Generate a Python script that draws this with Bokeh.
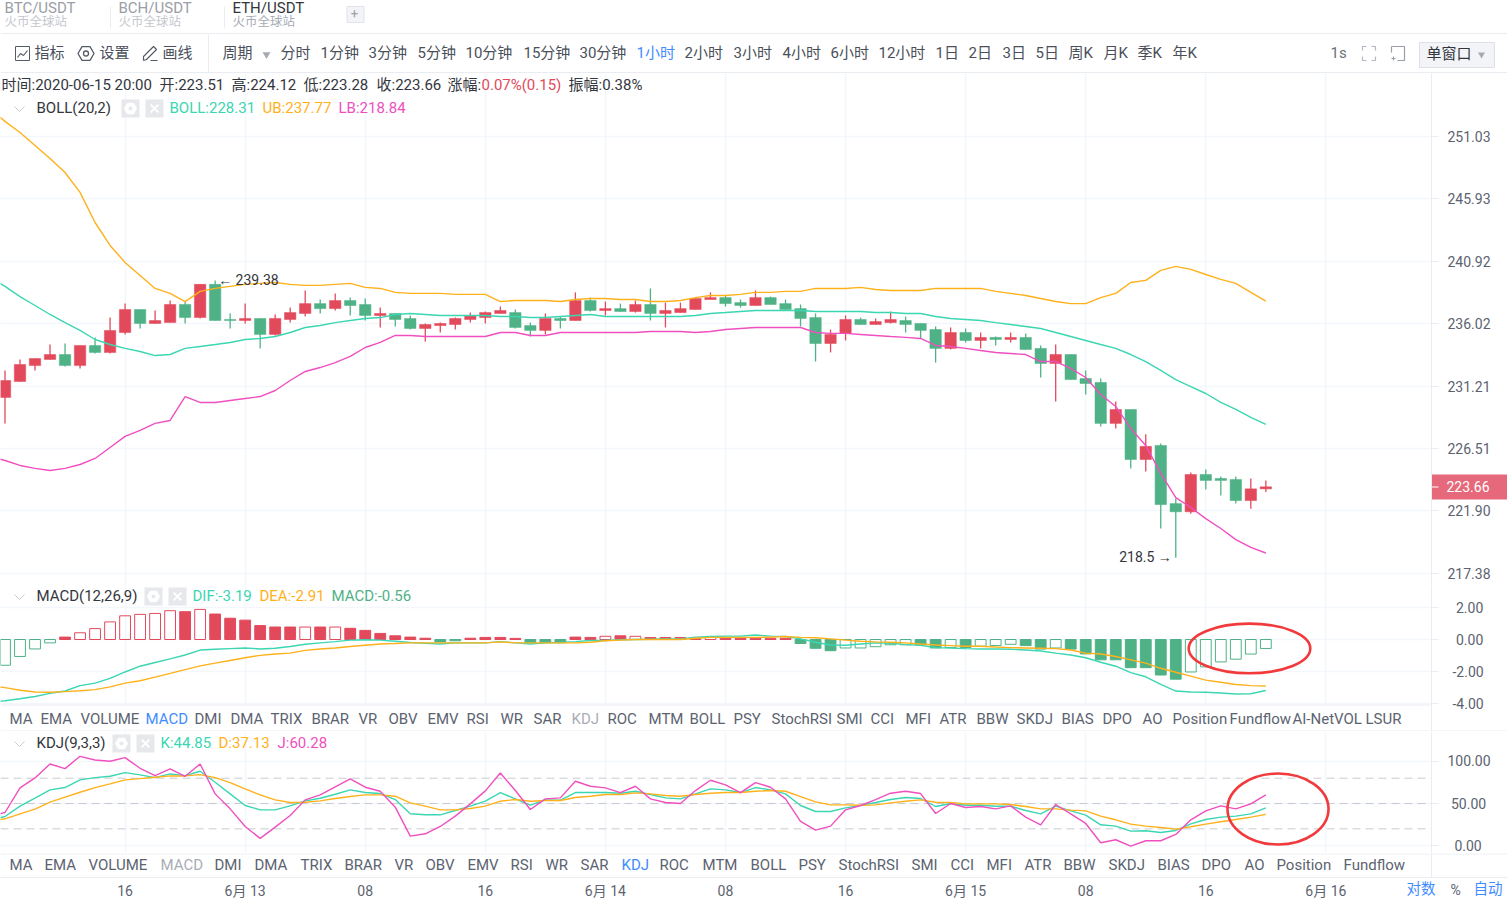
from bokeh.core.properties import value
from bokeh.embed import file_html
from bokeh.layouts import column
from bokeh.models import FixedTicker, Label, LinearAxis, LinearScale, PrintfTickFormatter, Range1d, Span
from bokeh.plotting import figure
from bokeh.resources import INLINE

# one candle per hour, 2020-06-12 08:00 to 2020-06-15 20:00
hours = list(range(85))
# the indicator lines start one hour earlier, left of the picture
line_hours = [-1] + hours

opens = [230.34, 231.55, 232.77, 233.24, 233.62, 232.77, 234.32, 233.78, 235.32, 237.11,
         236.02, 236.09, 237.50, 236.48, 239.08, 236.33, 236.25, 236.41, 235.17, 236.33,
         236.80, 237.57, 237.18, 237.81, 237.50, 236.64, 236.80, 236.41, 235.63, 235.86,
         235.94, 236.33, 236.48, 236.80, 236.87, 235.86, 235.48, 236.41, 236.25, 237.81,
         237.03, 237.18, 236.95, 237.50, 236.80, 236.87, 237.11, 237.89, 238.04, 237.65,
         237.42, 238.04, 237.57, 237.18, 236.48, 234.47, 235.25, 236.33, 235.94, 236.09,
         236.25, 236.02, 235.55, 234.09, 235.32, 234.70, 234.94, 234.78, 234.94, 234.09,
         232.93, 233.62, 231.78, 231.48, 228.38, 229.43, 225.68, 226.73, 222.43, 221.83,
         224.57, 224.28, 224.20, 222.65, 223.51]
closes = [231.63, 232.85, 233.31, 233.62, 232.77, 234.32, 233.78, 235.48, 237.11, 236.02,
          236.25, 237.50, 236.48, 239.08, 236.25, 236.25, 236.41, 235.17, 236.41, 236.87,
          237.57, 237.18, 237.81, 237.42, 236.64, 236.80, 236.33, 235.63, 235.94, 236.02,
          236.41, 236.64, 236.87, 237.03, 235.71, 235.48, 236.41, 236.25, 237.81, 237.03,
          237.18, 236.95, 237.50, 236.80, 237.03, 237.18, 237.97, 238.04, 237.57, 237.42,
          238.04, 237.50, 237.11, 236.41, 234.47, 235.17, 236.33, 235.94, 236.17, 236.33,
          235.94, 235.48, 234.09, 235.32, 234.70, 234.94, 234.78, 234.94, 234.01, 232.93,
          233.62, 231.70, 231.40, 228.38, 229.43, 225.68, 226.66, 222.36, 221.83, 224.57,
          224.13, 224.13, 222.65, 223.51, 223.66]
highs = [232.40, 233.24, 233.31, 234.39, 234.47, 234.32, 234.94, 236.48, 237.57, 237.11,
         237.03, 237.81, 237.73, 239.08, 239.38, 236.80, 237.57, 236.41, 236.72, 237.26,
         238.60, 237.89, 238.37, 238.04, 237.97, 237.26, 236.80, 236.64, 236.02, 236.09,
         236.48, 236.87, 236.95, 237.34, 237.11, 236.09, 236.80, 236.56, 238.45, 238.04,
         237.73, 237.57, 237.81, 238.76, 237.65, 237.65, 237.97, 238.45, 238.20, 237.89,
         238.60, 238.12, 237.89, 237.50, 236.80, 235.55, 236.64, 236.48, 236.41, 236.95,
         236.56, 236.02, 235.79, 235.71, 235.63, 235.32, 235.01, 235.32, 235.25, 234.32,
         234.39, 233.62, 232.40, 231.78, 230.04, 229.43, 227.56, 226.88, 222.81, 224.72,
         224.94, 224.43, 224.43, 224.28, 224.12]
lows = [228.38, 231.55, 232.40, 233.24, 232.70, 232.55, 233.70, 233.70, 235.17, 235.63,
        236.02, 236.09, 236.02, 236.41, 236.25, 235.63, 236.02, 234.09, 235.09, 236.09,
        236.56, 236.80, 237.03, 236.64, 236.25, 235.71, 235.79, 235.55, 234.63, 235.32,
        235.55, 236.09, 236.02, 236.80, 235.63, 235.01, 235.17, 235.63, 236.25, 236.95,
        236.64, 236.95, 236.87, 236.25, 235.71, 236.87, 237.11, 237.89, 237.34, 237.26,
        237.42, 237.50, 237.11, 235.79, 233.08, 233.78, 234.70, 235.94, 235.94, 236.02,
        235.32, 234.86, 233.00, 234.01, 234.55, 234.09, 234.32, 234.55, 234.01, 231.86,
        230.04, 231.70, 230.57, 228.15, 228.00, 225.02, 224.80, 220.61, 218.50, 221.68,
        223.47, 223.03, 222.43, 222.06, 223.28]

boll_ub = [253.34, 252.26, 251.34, 250.27, 249.20, 248.05, 246.43, 244.00, 242.16, 240.81, 239.78,
           238.76, 238.37, 237.73, 238.53, 238.76, 238.92, 239.08, 239.16, 239.23, 239.08,
           239.00, 239.00, 239.08, 239.16, 238.84, 238.76, 238.45, 238.37, 238.37, 238.37,
           238.29, 238.29, 238.29, 237.73, 237.81, 237.81, 237.81, 237.73, 237.89, 237.97,
           237.97, 237.89, 237.89, 237.73, 237.73, 237.81, 238.04, 238.20, 238.20, 238.29,
           238.45, 238.45, 238.53, 238.53, 238.76, 238.76, 238.76, 238.84, 238.68, 238.60,
           238.60, 238.60, 238.76, 238.76, 238.76, 238.76, 238.53, 238.37, 238.20, 237.97,
           237.73, 237.57, 237.57, 238.04, 238.37, 239.23, 239.39, 240.18, 240.50, 240.26,
           239.86, 239.47, 239.16, 238.45, 237.77]
boll_mid = [239.63, 238.92, 238.12, 237.42, 236.72, 236.09, 235.48, 234.78, 234.39, 234.09, 233.85,
            233.54, 233.62, 234.09, 234.24, 234.39, 234.55, 234.78, 234.86, 235.01, 235.32,
            235.71, 235.86, 236.09, 236.25, 236.41, 236.48, 236.72, 236.80, 236.72, 236.64,
            236.64, 236.64, 236.64, 236.56, 236.56, 236.48, 236.48, 236.56, 236.64, 236.72,
            236.56, 236.56, 236.56, 236.56, 236.56, 236.56, 236.64, 236.80, 236.87, 236.95,
            237.03, 237.03, 237.03, 237.03, 236.95, 236.95, 236.95, 236.95, 236.87, 236.87,
            236.80, 236.80, 236.56, 236.41, 236.33, 236.25, 236.09, 235.94, 235.79, 235.63,
            235.32, 235.01, 234.70, 234.39, 234.09, 233.62, 233.08, 232.40, 231.70, 231.17,
            230.64, 229.96, 229.43, 228.83, 228.31]
boll_lb = [225.87, 225.61, 225.24, 225.02, 224.87, 225.02, 225.31, 225.76, 226.58, 227.41, 227.86,
           228.38, 228.60, 230.41, 229.96, 229.96, 230.11, 230.26, 230.41, 230.87, 231.63,
           232.32, 232.62, 233.00, 233.47, 234.16, 234.55, 235.09, 235.09, 235.01, 235.01,
           235.01, 235.01, 235.01, 235.32, 235.32, 235.09, 235.09, 235.32, 235.32, 235.32,
           235.32, 235.32, 235.32, 235.40, 235.40, 235.40, 235.32, 235.40, 235.55, 235.63,
           235.71, 235.71, 235.71, 235.71, 235.32, 235.25, 235.25, 235.17, 235.09, 235.01,
           234.94, 234.86, 234.32, 234.24, 234.09, 233.93, 233.78, 233.70, 233.62, 233.08,
           233.08, 232.55, 231.86, 230.57, 229.66, 228.00, 226.73, 224.65, 222.87, 222.14,
           221.33, 220.61, 219.81, 219.24, 218.84]

dif = [-3.90, -3.83, -3.70, -3.56, -3.37, -3.22, -2.88, -2.73, -2.43, -2.03, -1.67,
       -1.44, -1.21, -0.97, -0.66, -0.61, -0.57, -0.53, -0.59, -0.55, -0.44,
       -0.30, -0.21, -0.13, -0.04, -0.02, -0.04, -0.11, -0.19, -0.23, -0.28,
       -0.21, -0.21, -0.21, -0.13, -0.21, -0.28, -0.21, -0.19, -0.13, -0.06,
       -0.06, -0.02, 0.00, 0.02, 0.04, 0.04, 0.15, 0.19, 0.21, 0.21,
       0.28, 0.21, 0.19, 0.04, -0.17, -0.34, -0.36, -0.28, -0.21, -0.23,
       -0.32, -0.36, -0.51, -0.53, -0.57, -0.59, -0.59, -0.61, -0.66, -0.72,
       -0.85, -0.97, -1.14, -1.42, -1.67, -2.07, -2.33, -2.81, -3.22, -3.28,
       -3.30, -3.34, -3.41, -3.39, -3.19]
dea = [-2.88, -3.01, -3.17, -3.28, -3.30, -3.26, -3.20, -3.13, -2.96, -2.73, -2.58,
       -2.35, -2.12, -1.88, -1.65, -1.48, -1.31, -1.14, -0.99, -0.91, -0.85,
       -0.68, -0.59, -0.53, -0.44, -0.36, -0.28, -0.25, -0.21, -0.21, -0.21,
       -0.21, -0.21, -0.21, -0.15, -0.21, -0.21, -0.21, -0.21, -0.21, -0.17,
       -0.08, -0.04, 0.00, 0.00, 0.00, 0.00, 0.08, 0.13, 0.13, 0.13,
       0.13, 0.15, 0.19, 0.13, 0.11, 0.04, -0.04, -0.11, -0.15, -0.17,
       -0.21, -0.28, -0.34, -0.38, -0.42, -0.42, -0.47, -0.51, -0.53, -0.55,
       -0.57, -0.66, -0.85, -0.91, -1.06, -1.27, -1.48, -1.80, -2.05, -2.29,
       -2.54, -2.67, -2.81, -2.88, -2.91]
macd_vals = [-1.61, -1.06, -0.59, -0.21, 0.15, 0.42, 0.68, 1.10, 1.48, 1.57,
             1.63, 1.80, 1.74, 1.88, 1.59, 1.33, 1.21, 0.87, 0.78, 0.78,
             0.78, 0.78, 0.78, 0.70, 0.57, 0.38, 0.23, 0.15, 0.08, -0.15,
             -0.08, 0.08, 0.13, 0.13, 0.07, -0.20, -0.20, -0.20, 0.15, 0.13,
             0.20, 0.23, 0.20, 0.12, 0.12, 0.12, 0.08, 0.15, 0.08, 0.08,
             0.08, 0.08, 0.08, -0.25, -0.55, -0.70, -0.53, -0.53, -0.45, -0.33,
             -0.33, -0.33, -0.53, -0.50, -0.50, -0.42, -0.38, -0.30, -0.38, -0.60,
             -0.53, -0.60, -0.90, -1.27, -1.27, -1.76, -1.76, -2.22, -2.48, -2.03,
             -1.71, -1.40, -1.23, -0.91, -0.56]
macd_hollow = [1, 1, 1, 1, 0, 1, 1, 1, 1, 1,
               1, 1, 0, 1, 0, 0, 0, 0, 0, 0,
               1, 0, 1, 0, 0, 0, 0, 0, 0, 0,
               0, 0, 0, 0, 0, 0, 0, 0, 0, 0,
               1, 0, 1, 0, 0, 0, 0, 1, 0, 0,
               0, 0, 0, 0, 0, 0, 1, 1, 1, 1,
               1, 0, 0, 1, 0, 1, 1, 1, 0, 0,
               1, 0, 0, 0, 0, 0, 0, 0, 0, 1,
               1, 1, 1, 1, 1]

kdj_k = [30.30, 34.65, 46.85, 56.30, 66.14, 68.90, 77.95, 80.71, 82.28, 86.61, 83.86,
         80.71, 85.04, 83.07, 88.19, 75.20, 61.42, 47.64, 42.52, 42.52, 47.24,
         53.15, 56.30, 61.02, 66.14, 62.99, 61.81, 54.72, 37.80, 36.61, 36.61,
         41.73, 46.85, 52.76, 62.99, 55.51, 48.03, 54.33, 53.94, 62.99, 62.99,
         62.99, 62.20, 64.57, 60.63, 56.69, 55.51, 61.42, 67.32, 66.14, 62.99,
         68.90, 66.14, 61.42, 47.64, 40.55, 40.55, 44.88, 47.64, 51.18, 54.72,
         57.09, 55.91, 46.46, 50.00, 48.03, 48.03, 46.85, 46.85, 41.73, 37.80,
         46.85, 41.34, 36.22, 24.80, 23.23, 17.32, 17.72, 15.75, 18.11, 25.98,
         31.10, 33.86, 35.04, 37.80, 44.85]
kdj_d = [29.10, 31.89, 37.80, 43.31, 51.57, 57.48, 63.39, 68.90, 73.23, 77.95, 79.53,
         81.10, 82.68, 82.68, 84.25, 80.71, 74.80, 67.32, 60.24, 54.33, 51.18,
         51.57, 53.15, 55.91, 58.27, 60.24, 60.24, 58.66, 50.79, 46.85, 42.52,
         42.52, 44.09, 46.85, 52.76, 54.72, 52.76, 53.54, 53.54, 57.09, 58.66,
         60.63, 60.63, 62.60, 61.42, 59.45, 58.66, 60.63, 62.20, 62.99, 62.99,
         64.57, 65.35, 64.57, 58.27, 51.97, 48.43, 48.43, 48.03, 48.43, 50.79,
         52.76, 54.33, 51.57, 51.18, 49.61, 49.61, 49.61, 48.82, 46.46, 43.70,
         43.70, 42.13, 41.34, 35.04, 30.71, 25.59, 23.23, 21.65, 19.69, 22.44,
         25.59, 28.35, 31.10, 33.86, 37.13]
kdj_j = [35.40, 39.37, 68.50, 80.31, 96.85, 91.34, 105.90, 101.60, 100.00, 104.30, 91.73,
         83.07, 90.94, 82.28, 96.85, 61.42, 43.70, 22.83, 8.66, 22.05, 35.83,
         54.33, 60.24, 69.69, 79.13, 69.29, 64.57, 45.67, 11.42, 14.17, 22.83,
         35.04, 49.61, 64.96, 86.22, 65.35, 42.91, 55.51, 56.69, 76.38, 70.47,
         68.50, 62.99, 70.47, 55.51, 51.18, 50.00, 65.35, 77.56, 72.05, 62.99,
         74.80, 69.29, 55.51, 28.74, 18.50, 23.23, 42.52, 47.64, 54.72, 62.20,
         64.57, 61.81, 38.19, 50.00, 45.28, 46.46, 43.70, 47.24, 33.86, 24.80,
         48.82, 37.80, 26.38, 3.54, 7.09, -0.39, 5.91, 5.91, 13.39, 30.71,
         41.34, 47.24, 43.70, 49.61, 60.28]

price_ticks = [217.38, 221.90, 226.51, 231.21, 236.02, 240.92, 245.93, 251.03]
macd_ticks = [-4, -2, 0, 2]
kdj_ticks = [0, 50, 100]
kdj_levels = [20, 50, 80]
time_ticks = [8, 16, 24, 32, 40, 48, 56, 64, 72, 80, 88]
time_labels = ["16", "6月 13", "08", "16", "6月 14", "08", "16", "6月 15", "08", "16", "6月 16"]

tabs_macd = [("MA", 10), ("EMA", 41), ("VOLUME", 81), ("MACD", 146), ("DMI", 195), ("DMA", 231), ("TRIX", 271),
             ("BRAR", 312), ("VR", 359), ("OBV", 389), ("EMV", 428), ("RSI", 467), ("WR", 501), ("SAR", 534),
             ("KDJ", 572), ("ROC", 608), ("MTM", 649), ("BOLL", 690), ("PSY", 734), ("StochRSI", 772),
             ("SMI", 837), ("CCI", 871), ("MFI", 906), ("ATR", 940), ("BBW", 977), ("SKDJ", 1017),
             ("BIAS", 1062), ("DPO", 1103), ("AO", 1143), ("Position", 1173), ("Fundflow", 1230),
             ("AI-NetVOL", 1293), ("LSUR", 1366)]
tabs_kdj = [("MA", 10), ("EMA", 45), ("VOLUME", 89), ("MACD", 161), ("DMI", 215), ("DMA", 255), ("TRIX", 301),
            ("BRAR", 345), ("VR", 395), ("OBV", 426), ("EMV", 468), ("RSI", 511), ("WR", 546), ("SAR", 581),
            ("KDJ", 622), ("ROC", 660), ("MTM", 703), ("BOLL", 751), ("PSY", 799), ("StochRSI", 839),
            ("SMI", 912), ("CCI", 951), ("MFI", 987), ("ATR", 1025), ("BBW", 1064), ("SKDJ", 1109),
            ("BIAS", 1158), ("DPO", 1202), ("AO", 1245), ("Position", 1277), ("Fundflow", 1344)]
periods = [("分时", 281), ("1分钟", 321), ("3分钟", 369), ("5分钟", 418), ("10分钟", 466), ("15分钟", 524),
           ("30分钟", 580), ("1小时", 637), ("2小时", 685), ("3小时", 734), ("4小时", 783), ("6小时", 831),
           ("12小时", 879), ("1日", 936), ("2日", 969), ("3日", 1003), ("5日", 1036), ("周K", 1069),
           ("月K", 1104), ("季K", 1138), ("年K", 1173)]

RED = "#E24A5C"
GREEN = "#4FB286"
CYAN = "#3BD6B2"
ORANGE = "#FFB11B"
PINK = "#F04FC0"
BLUE = "#3F8CFF"
TEXT = "#5C6370"
DARK = "#33363D"
RULE = "#E9ECF1"
GRID = "#F3F6FA"
FONT = 'Roboto, "Noto Sans CJK SC"'
W = 1507
AXIS_X = 1431
X0, DX = 4.5, 15.01  # pixel of the first candle, pixels per hour


def hour_at(px):
    return (px - X0) / DX


def add_px_ranges(f, top, bottom):
    # second pair of ranges in page pixels, for the texts and icons around the chart
    f.extra_x_ranges["px"] = Range1d(0, W)
    f.extra_y_ranges["px"] = Range1d(bottom, top)
    f.extra_x_scales["px"] = LinearScale()
    f.extra_y_scales["px"] = LinearScale()
    f.outline_line_color = None
    f.background_fill_color = "white"
    f.border_fill_color = "white"


def text(f, x, y, s, color=TEXT, size=15, align="left"):
    f.add_layout(Label(x=x - 1, y=y - 1, text=s, x_range_name="px", y_range_name="px", text_color=color,
                       text_font=FONT, text_font_size=f"{size}px", text_baseline="middle", text_align=align))


def strip(f, xs, ys, color="#9AA0AC", width=1.2):
    f.line(xs, ys, line_color=color, line_width=width, x_range_name="px", y_range_name="px")


def panel(top, bottom, y_range, ticks, y_axis_type="linear"):
    f = figure(width=W, height=bottom - top, x_range=Range1d(hour_at(0), hour_at(W)), y_range=y_range,
               y_axis_type=y_axis_type, y_axis_location="right", x_axis_location=None,
               output_backend="svg", toolbar_location=None,
               min_border_left=0, min_border_top=0, min_border_bottom=0, min_border_right=0)
    add_px_ranges(f, top, bottom)
    f.xgrid.ticker = FixedTicker(ticks=time_ticks)
    f.xgrid.grid_line_color = GRID
    f.xgrid.grid_line_width = 1.5
    f.ygrid.grid_line_color = GRID
    f.ygrid.grid_line_width = 1.5
    # the grid must stop at the price axis
    f.quad([AXIS_X], [W], [bottom], [top], fill_color="white", line_color=None, x_range_name="px", y_range_name="px")
    ax = f.yaxis[0]
    ax.fixed_location = hour_at(AXIS_X)
    ax.ticker = FixedTicker(ticks=ticks)
    ax.axis_line_color = RULE
    ax.major_tick_line_color = RULE
    ax.major_tick_in = 0
    ax.major_tick_out = 7
    ax.minor_tick_line_color = None
    ax.major_label_standoff = 9
    ax.major_label_text_color = TEXT
    ax.major_label_text_font = "Roboto"
    ax.major_label_text_font_size = "14px"
    return f


def chrome(top, bottom, x_range=None):
    f = figure(width=W, height=bottom - top, x_range=x_range or Range1d(0, W), y_range=Range1d(bottom, top),
               x_axis_location=None, y_axis_location=None, output_backend="svg", toolbar_location=None,
               min_border_left=0, min_border_top=0, min_border_bottom=0, min_border_right=0)
    f.grid.visible = False
    add_px_ranges(f, top, bottom)
    return f


def indicator_head(f, y, name, name_x, gear_x, stats):
    strip(f, [14, 19, 24], [y - 2, y + 3, y - 2], "#C9CDD5", 1)
    text(f, name_x, y, name, DARK)
    for x0, mark in [(gear_x, "hex"), (gear_x + 24, "x")]:
        f.rect([x0 + 9], [y], 18, 18, fill_color="#E6E8EC", line_color=None, x_range_name="px", y_range_name="px")
        f.scatter([x0 + 9], [y], marker=mark, size=11, fill_color="white", line_color="white", line_width=2,
                  x_range_name="px", y_range_name="px")
    f.scatter([gear_x + 9], [y], marker="circle", size=4, fill_color="#E6E8EC", line_color=None,
              x_range_name="px", y_range_name="px")
    for x0, s, color in stats:
        text(f, x0, y, s, color)


# header: tabs and tool bar
head = chrome(0, 73)
for s, sub_color, x0, name_color in [("BTC/USDT", "#C5C8CE", 5, "#9A9EA6"), ("BCH/USDT", "#C5C8CE", 119, "#9A9EA6"),
                                     ("ETH/USDT", "#A8ACB4", 233, DARK)]:
    text(head, x0, 8, s, name_color)
    text(head, x0, 22, "火币全球站", sub_color, 12.5)
head.segment([110, 224], [6, 6], [110, 224], [28, 28], line_color=RULE, x_range_name="px", y_range_name="px")
head.rect([355], [14], 17, 16, fill_color="#F3F4F7", line_color="#E0E3E8", x_range_name="px", y_range_name="px")
text(head, 355, 14, "+", "#9A9EA6", 13, "center")
head.segment([0, 0], [33, 72], [W, W], [33, 72], line_color=RULE, x_range_name="px", y_range_name="px")
head.segment([208], [34], [208], [72], line_color=RULE, x_range_name="px", y_range_name="px")
head.rect([22], [53], 14, 14, fill_color=None, line_color="#555B66", x_range_name="px", y_range_name="px")
strip(head, [17, 20, 23, 27], [57, 53, 55, 50], "#555B66")
head.scatter([85.5], [53], marker="hex", size=16, fill_color=None, line_color="#555B66", line_width=1.3,
             x_range_name="px", y_range_name="px")
head.scatter([85.5], [53], marker="circle", size=5, fill_color=None, line_color="#555B66", line_width=1.3,
             x_range_name="px", y_range_name="px")
strip(head, [143, 143, 153, 156, 146, 143], [60, 56, 46, 49, 59, 60], "#555B66")
strip(head, [150, 157], [60, 60], "#555B66")
text(head, 35, 53, "指标", "#4A4F5A")
text(head, 100, 53, "设置", "#4A4F5A")
text(head, 163, 53, "画线", "#4A4F5A")
text(head, 223, 53, "周期", "#4A4F5A")
head.scatter([266], [54], marker="inverted_triangle", size=8, fill_color="#A6AAB2", line_color=None,
             x_range_name="px", y_range_name="px")
for s, x0 in periods:
    text(head, x0, 53, s, BLUE if s == "1小时" else "#4A4F5A")
text(head, 1331, 53, "1s", "#6A7079")
strip(head, [1362, 1362, 1366], [50, 46, 46], "#B4B8C0")
strip(head, [1371, 1375, 1375], [46, 46, 50], "#B4B8C0")
strip(head, [1362, 1362, 1366], [56, 60, 60], "#B4B8C0")
strip(head, [1371, 1375, 1375], [60, 60, 56], "#B4B8C0")
strip(head, [1391, 1404, 1404, 1397], [46, 46, 60, 60], "#9A9EA6")
strip(head, [1391, 1391], [46, 52], "#9A9EA6")
strip(head, [1391, 1395], [58, 58], "#9A9EA6")
strip(head, [1393, 1393], [56, 60], "#9A9EA6")
head.rect([1456.5], [54.5], 75, 25, fill_color="#F3F4F7", line_color="#DDE0E6", x_range_name="px", y_range_name="px")
text(head, 1427, 54, "单窗口", DARK)
head.scatter([1481], [54], marker="inverted_triangle", size=7, fill_color="#A6AAB2", line_color=None,
             x_range_name="px", y_range_name="px")

# candles with bollinger bands, log price axis
price = panel(73, 585, Range1d(216.51, 256.27), price_ticks, "log")
price.yaxis[0].formatter = PrintfTickFormatter(format="%.2f")
up = [i for i in hours if closes[i] >= opens[i]]
down = [i for i in hours if closes[i] < opens[i]]
for idx, color in [(up, RED), (down, GREEN)]:
    price.segment([hours[i] for i in idx], [highs[i] for i in idx], [hours[i] for i in idx], [lows[i] for i in idx],
                  line_color=color, line_width=1.3)
    price.vbar([hours[i] for i in idx], 0.76, [min(opens[i], closes[i]) for i in idx],
               [max(opens[i], closes[i]) for i in idx], fill_color=color, line_color=color, line_width=0.5)
price.line(line_hours, boll_ub, line_color=ORANGE, line_width=1.4)
price.line(line_hours, boll_mid, line_color=CYAN, line_width=1.4)
price.line(line_hours, boll_lb, line_color=PINK, line_width=1.4)
price.text([14], [highs[14]], text=["← 239.38"], x_offset=3, y_offset=-1, text_baseline="middle",
           text_font=value("Roboto"), text_font_size="14px", text_color=DARK)
price.text([78], [lows[78]], text=["218.5 →"], x_offset=-4, y_offset=-1, text_align="right", text_baseline="middle",
           text_font=value("Roboto"), text_font_size="14px", text_color=DARK)
text(price, 2, 85, "时间:2020-06-15 20:00", DARK)
text(price, 160, 85, "开:223.51", DARK)
text(price, 232, 85, "高:224.12", DARK)
text(price, 304, 85, "低:223.28", DARK)
text(price, 377, 85, "收:223.66", DARK)
text(price, 448, 85, "涨幅:", DARK)
text(price, 482, 85, "0.07%(0.15)", RED)
text(price, 569, 85, "振幅:0.38%", DARK)
indicator_head(price, 108, "BOLL(20,2)", 37, 121,
               [(170, "BOLL:228.31", CYAN), (263, "UB:237.77", ORANGE), (339, "LB:218.84", PINK)])
price.quad([AXIS_X], [W], [499], [474], fill_color="#E5697A", line_color=None, x_range_name="px", y_range_name="px")
price.segment([AXIS_X], [486.5], [AXIS_X + 7], [486.5], line_color="white", x_range_name="px", y_range_name="px")
text(price, 1447, 487, "223.66", "white", 14)

# macd panel, its frame also holds the row of indicator tabs
macd = panel(585, 731, Range1d(-5.75, 3.375), macd_ticks)
macd.yaxis[0].major_label_overrides = {2: "\u00a02.00", 0: "\u00a00.00", -2: "-2.00", -4: "-4.00"}
macd.yaxis[0].major_label_standoff = 14
for i in hours:
    color = RED if macd_vals[i] >= 0 else GREEN
    top, bot = max(macd_vals[i], 0), min(macd_vals[i], 0)
    macd.vbar([i], 0.72, [bot], [top], line_color=color, line_width=1,
              fill_color=None if macd_hollow[i] else color)
macd.line(line_hours, dif, line_color=CYAN, line_width=1.4)
macd.line(line_hours, dea, line_color=ORANGE, line_width=1.4)
macd.ellipse([hour_at(1249)], [-0.56], width=8.1, height=3.1, fill_color=None, line_color="#F23A3C", line_width=2.6)
indicator_head(macd, 596, "MACD(12,26,9)", 37, 144,
               [(193, "DIF:-3.19", CYAN), (260, "DEA:-2.91", ORANGE), (332, "MACD:-0.56", GREEN)])
macd.quad([0], [AXIS_X], [731], [704], fill_color="white", line_color=None, x_range_name="px", y_range_name="px")
macd.segment([0, 0], [704.5, 730.5], [AXIS_X, W], [704.5, 730.5], line_color=RULE, x_range_name="px", y_range_name="px")
for s, x0 in tabs_macd:
    color = BLUE if s == "MACD" else "#A9ADB6" if s == "KDJ" else TEXT
    text(macd, x0, 719, s, color)

# kdj panel
kdj = panel(731, 853, Range1d(-9.2, 135.3), kdj_ticks)
kdj.yaxis[0].major_label_overrides = {100: "100.00", 50: "\u00a050.00", 0: "\u00a0\u00a00.00"}
for lvl in kdj_levels:
    kdj.add_layout(Span(location=lvl, dimension="width", line_color="#C9CBD0", line_dash=[8, 5], line_width=1,
                        level="underlay"))
kdj.line(line_hours, kdj_k, line_color=CYAN, line_width=1.4)
kdj.line(line_hours, kdj_d, line_color=ORANGE, line_width=1.4)
kdj.line(line_hours, kdj_j, line_color=PINK, line_width=1.4)
kdj.ellipse([hour_at(1277.5)], [43.5], width=6.73, height=84, fill_color=None, line_color="#F23A3C", line_width=2.6)
indicator_head(kdj, 743, "KDJ(9,3,3)", 37, 112,
               [(161, "K:44.85", CYAN), (219, "D:37.13", ORANGE), (278, "J:60.28", PINK)])

# indicator tabs under kdj and the time axis
tabs2 = chrome(853, 900, Range1d(hour_at(0), hour_at(W)))
tabs2.segment([0], [853.5], [W], [853.5], line_color=RULE, x_range_name="px", y_range_name="px")
tabs2.segment([AXIS_X], [853], [AXIS_X], [877], line_color=RULE, x_range_name="px", y_range_name="px")
time_axis = LinearAxis(fixed_location=877, ticker=FixedTicker(ticks=time_ticks),
                       major_label_overrides=dict(zip(time_ticks, time_labels)),
                       axis_line_color=RULE, major_tick_line_color=None, minor_tick_line_color=None,
                       major_label_standoff=-1, major_label_text_color=TEXT, major_label_text_font=FONT,
                       major_label_text_font_size="14px")
tabs2.add_layout(time_axis, "below")
for s, x0 in tabs_kdj:
    color = BLUE if s == "KDJ" else "#A9ADB6" if s == "MACD" else TEXT
    text(tabs2, x0, 865, s, color)
text(tabs2, 1407, 890, "对数", BLUE, 14.5)
text(tabs2, 1451, 890, "%", TEXT, 14)
text(tabs2, 1474, 890, "自动", BLUE, 14.5)

page = column(head, price, macd, kdj, tabs2, spacing=0)
open("out.html", "w").write(file_html(page, INLINE))
